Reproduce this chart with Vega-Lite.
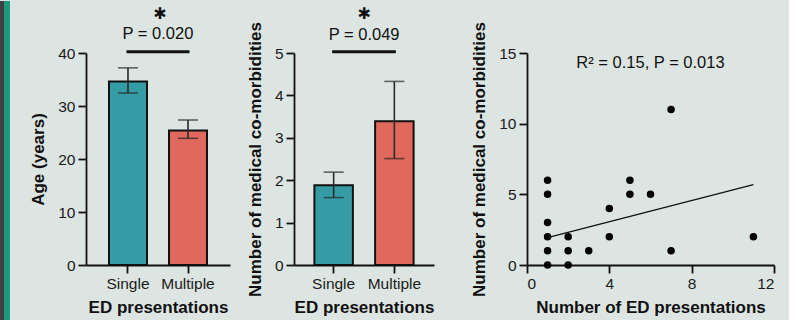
{
  "$schema": "https://vega.github.io/schema/vega-lite/v6.json",
  "background": "#dde5e2",
  "padding": {"left": 0, "top": 0, "bottom": 0, "right": 14},
  "spacing": 64,
  "bounds": "flush",
  "config": {
    "view": {"stroke": null},
    "font": "Liberation Sans",
    "axis": {
      "domainColor": "#111111",
      "domainWidth": 1.8,
      "tickColor": "#111111",
      "tickWidth": 1.8,
      "tickSize": 8,
      "labelPadding": 3,
      "labelFont": "Liberation Sans",
      "labelFontSize": 15.5,
      "labelColor": "#1a1a1a",
      "titleFont": "Liberation Sans",
      "titleFontSize": 17,
      "titleFontWeight": "bold",
      "titleColor": "#111111",
      "grid": false,
      "labelAngle": 0
    },
    "axisY": {"titlePadding": 10},
    "axisX": {"titlePadding": 8}
  },
  "hconcat": [
    {
      "width": 22,
      "height": 212,
      "data": {"values": [
        {"c": "dark", "x0": 0, "x1": 4, "y0": -0.2642, "y1": 1.2453},
        {"c": "green", "x0": 4, "x1": 10, "y0": -0.2642, "y1": 1.2453}
      ]},
      "mark": {"type": "rect"},
      "encoding": {
        "x": {"field": "x0", "type": "quantitative", "scale": {"domain": [0, 22], "nice": false, "zero": false}, "axis": null},
        "x2": {"field": "x1"},
        "y": {"field": "y0", "type": "quantitative", "scale": {"domain": [0, 1], "nice": false, "zero": false}, "axis": null},
        "y2": {"field": "y1"},
        "color": {"field": "c", "type": "nominal", "scale": {"domain": ["dark", "green"], "range": ["#404040", "#1a9a7a"]}, "legend": null}
      }
    },
    {
      "width": 144,
      "height": 212,
      "layer": [
        {
          "data": {"values": [
            {"g": "Single", "mean": 34.6, "lo": 32.45, "hi": 37.2},
            {"g": "Multiple", "mean": 25.4, "lo": 23.9, "hi": 27.36}
          ]},
          "layer": [
            {
              "mark": {"type": "bar", "stroke": "#111111", "strokeWidth": 2},
              "encoding": {
                "x": {"field": "g", "type": "nominal", "sort": ["Single", "Multiple"],
                  "scale": {"domain": ["Single", "Multiple"], "paddingInner": 0.367, "paddingOuter": 0.383},
                  "axis": {"title": "ED presentations"}},
                "y": {"field": "mean", "type": "quantitative",
                  "scale": {"domain": [0, 40], "nice": false},
                  "axis": {"title": "Age (years)", "values": [0, 10, 20, 30, 40]}},
                "fill": {"field": "g", "type": "nominal", "scale": {"domain": ["Single", "Multiple"], "range": ["#359ca5", "#e0685c"]}, "legend": null}
              }
            },
            {
              "mark": {"type": "rule", "color": "#2a2a2a", "strokeWidth": 1.6},
              "encoding": {
                "x": {"field": "g", "type": "nominal"},
                "y": {"field": "lo", "type": "quantitative"},
                "y2": {"field": "hi"}
              }
            },
            {
              "mark": {"type": "tick", "color": "#2a2a2a", "size": 20, "thickness": 1.6},
              "encoding": {
                "x": {"field": "g", "type": "nominal"},
                "y": {"field": "lo", "type": "quantitative"}
              }
            },
            {
              "mark": {"type": "tick", "color": "#2a2a2a", "size": 20, "thickness": 1.6},
              "encoding": {
                "x": {"field": "g", "type": "nominal"},
                "y": {"field": "hi", "type": "quantitative"}
              }
            }
          ]
        },
        {
          "data": {"values": [{"a": "Single", "b": "Multiple", "y": 40.23, "ty": 43.5, "sy": 47.45, "p": "P = 0.020", "s": "✱"}]},
          "layer": [
            {
              "mark": {"type": "rule", "color": "#111111", "strokeWidth": 3, "strokeCap": "square"},
              "encoding": {
                "x": {"field": "a", "type": "nominal"},
                "x2": {"field": "b"},
                "y": {"field": "y", "type": "quantitative"}
              }
            },
            {
              "mark": {"type": "text", "fontSize": 16.5, "baseline": "middle", "align": "center", "dx": 30, "color": "#111111"},
              "encoding": {
                "x": {"field": "a", "type": "nominal"},
                "y": {"field": "ty", "type": "quantitative"},
                "text": {"field": "p"}
              }
            },
            {
              "mark": {"type": "text", "font": "DejaVu Sans", "fontSize": 16, "baseline": "middle", "align": "center", "dx": 32, "color": "#111111"},
              "encoding": {
                "x": {"field": "a", "type": "nominal"},
                "y": {"field": "sy", "type": "quantitative"},
                "text": {"field": "s"}
              }
            }
          ]
        }
      ]
    },
    {
      "width": 169,
      "height": 212,
      "layer": [
        {
          "data": {"values": [
            {"g": "Single", "mean": 1.88, "lo": 1.59, "hi": 2.19},
            {"g": "Multiple", "mean": 3.39, "lo": 2.51, "hi": 4.33}
          ]},
          "layer": [
            {
              "mark": {"type": "bar", "stroke": "#111111", "strokeWidth": 2},
              "encoding": {
                "x": {"field": "g", "type": "nominal", "sort": ["Single", "Multiple"],
                  "scale": {"domain": ["Single", "Multiple"], "range": [0, 140], "paddingInner": 0.366, "paddingOuter": 0.336},
                  "axis": {"title": "ED presentations"}},
                "y": {"field": "mean", "type": "quantitative",
                  "scale": {"domain": [0, 5], "nice": false},
                  "axis": {"title": "Number of medical co-morbidities", "values": [0, 1, 2, 3, 4, 5]}},
                "fill": {"field": "g", "type": "nominal", "scale": {"domain": ["Single", "Multiple"], "range": ["#359ca5", "#e0685c"]}, "legend": null}
              }
            },
            {
              "mark": {"type": "rule", "color": "#2a2a2a", "strokeWidth": 1.6},
              "encoding": {
                "x": {"field": "g", "type": "nominal"},
                "y": {"field": "lo", "type": "quantitative"},
                "y2": {"field": "hi"}
              }
            },
            {
              "mark": {"type": "tick", "color": "#2a2a2a", "size": 20, "thickness": 1.6},
              "encoding": {
                "x": {"field": "g", "type": "nominal"},
                "y": {"field": "lo", "type": "quantitative"}
              }
            },
            {
              "mark": {"type": "tick", "color": "#2a2a2a", "size": 20, "thickness": 1.6},
              "encoding": {
                "x": {"field": "g", "type": "nominal"},
                "y": {"field": "hi", "type": "quantitative"}
              }
            }
          ]
        },
        {
          "data": {"values": [{"a": "Single", "b": "Multiple", "y": 5.03, "ty": 5.42, "sy": 5.93, "p": "P = 0.049", "s": "✱"}]},
          "layer": [
            {
              "mark": {"type": "rule", "color": "#111111", "strokeWidth": 3, "strokeCap": "square"},
              "encoding": {
                "x": {"field": "a", "type": "nominal"},
                "x2": {"field": "b"},
                "y": {"field": "y", "type": "quantitative"}
              }
            },
            {
              "mark": {"type": "text", "fontSize": 16.5, "baseline": "middle", "align": "center", "dx": 30.5, "color": "#111111"},
              "encoding": {
                "x": {"field": "a", "type": "nominal"},
                "y": {"field": "ty", "type": "quantitative"},
                "text": {"field": "p"}
              }
            },
            {
              "mark": {"type": "text", "font": "DejaVu Sans", "fontSize": 16, "baseline": "middle", "align": "center", "dx": 30.5, "color": "#111111"},
              "encoding": {
                "x": {"field": "a", "type": "nominal"},
                "y": {"field": "sy", "type": "quantitative"},
                "text": {"field": "s"}
              }
            }
          ]
        }
      ]
    },
    {
      "width": 247,
      "height": 212,
      "layer": [
        {
          "data": {"values": [
            {"x": 1, "y": 6}, {"x": 1, "y": 5}, {"x": 1, "y": 3}, {"x": 1, "y": 2}, {"x": 1, "y": 1}, {"x": 1, "y": 0},
            {"x": 2, "y": 2}, {"x": 2, "y": 1}, {"x": 2, "y": 0},
            {"x": 3, "y": 1},
            {"x": 4, "y": 4}, {"x": 4, "y": 2},
            {"x": 5, "y": 6}, {"x": 5, "y": 5},
            {"x": 6, "y": 5},
            {"x": 7, "y": 11}, {"x": 7, "y": 1},
            {"x": 11, "y": 2}
          ]},
          "mark": {"type": "circle", "size": 56, "color": "#000000", "opacity": 1},
          "encoding": {
            "x": {"field": "x", "type": "quantitative",
              "scale": {"domain": [0, 12], "nice": false},
              "axis": {"title": "Number of ED presentations", "values": [0, 4, 8, 12]}},
            "y": {"field": "y", "type": "quantitative",
              "scale": {"domain": [0, 15], "nice": false},
              "axis": {"title": "Number of medical co-morbidities", "values": [0, 5, 10, 15]}}
          }
        },
        {
          "data": {"values": [{"x": 1, "y": 1.94}, {"x": 11, "y": 5.69}]},
          "mark": {"type": "line", "color": "#111111", "strokeWidth": 1.3},
          "encoding": {
            "x": {"field": "x", "type": "quantitative"},
            "y": {"field": "y", "type": "quantitative"}
          }
        },
        {
          "data": {"values": [{"x": 6, "y": 14.3, "t": "R² = 0.15, P = 0.013"}]},
          "mark": {"type": "text", "fontSize": 16.5, "baseline": "middle", "align": "center", "color": "#111111"},
          "encoding": {
            "x": {"field": "x", "type": "quantitative"},
            "y": {"field": "y", "type": "quantitative"},
            "text": {"field": "t"}
          }
        }
      ]
    }
  ]
}
